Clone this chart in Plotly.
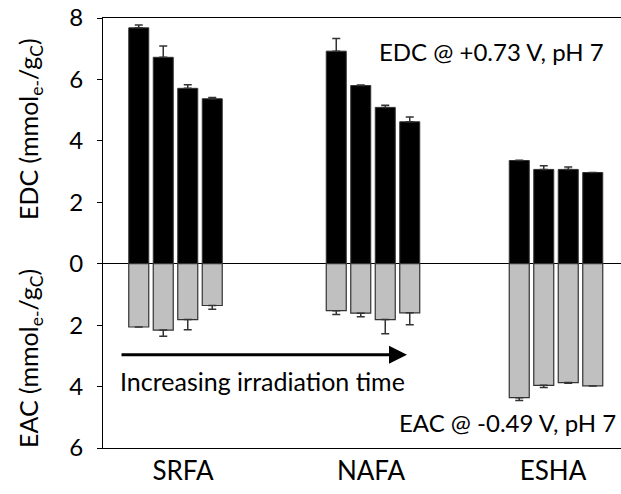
import plotly.graph_objects as go

categories = ["SRFA", "NAFA", "ESHA"]
# EDC (mmol e-/gC), four irradiation steps per sample
edc = [[7.68, 6.72, 5.71, 5.37],
       [6.92, 5.80, 5.09, 4.62],
       [3.36, 3.07, 3.07, 2.97]]
edc_err = [[0.09, 0.37, 0.12, 0.04],
           [0.41, 0.02, 0.07, 0.16],
           [0.01, 0.12, 0.08, 0.0]]
# EAC (mmol e-/gC)
eac = [[2.06, 2.16, 1.82, 1.36],
       [1.53, 1.61, 1.82, 1.60],
       [4.36, 3.96, 3.87, 3.98]]
eac_err = [[0.0, 0.20, 0.33, 0.12],
           [0.12, 0.12, 0.46, 0.39],
           [0.09, 0.07, 0.02, 0.0]]
ytick_vals = [-6, -4, -2, 0, 2, 4, 6, 8]
ytick_text = ["6", "4", "2", "0", "2", "4", "6", "8"]

FONT = "Lato"
group_x = [72.5, 270, 453]
label_x = [80, 268, 450]
step = 24.5

fig = go.Figure()
for i in range(4):
    xs = [g + (i - 1.5) * step for g in group_x]
    fig.add_trace(go.Bar(
        x=xs, y=[row[i] for row in edc], width=20,
        marker=dict(color="black", line=dict(color="#333333", width=1)),
        error_y=dict(type="data", symmetric=False,
                     array=[row[i] for row in edc_err],
                     arrayminus=[0] * 3, color="#333333", thickness=1.5, width=4),
        showlegend=False))
    fig.add_trace(go.Bar(
        x=xs, y=[-row[i] for row in eac], width=20,
        marker=dict(color="#c0c0c0", line=dict(color="#333333", width=1.2)),
        error_y=dict(type="data", symmetric=False,
                     array=[0] * 3,
                     arrayminus=[row[i] for row in eac_err], color="#333333", thickness=1.5, width=4),
        showlegend=False))

fig.update_layout(
    barmode="overlay",
    width=621, height=494,
    margin=dict(l=103, r=0, t=18, b=46),
    plot_bgcolor="white", paper_bgcolor="white",
    font=dict(family=FONT, color="black", size=22),
    xaxis=dict(range=[0, 518], showgrid=False, zeroline=False,
               showline=True, linecolor="black", linewidth=1, mirror=True,
               tickvals=label_x, ticktext=categories, ticks="",
               tickfont=dict(size=26, family=FONT)),
    yaxis=dict(range=[-6, 8], showgrid=False, zeroline=True, zerolinecolor="black",
               zerolinewidth=1, showline=True, linecolor="black", linewidth=1,
               tickvals=ytick_vals, ticktext=ytick_text, ticks="outside",
               ticklen=5, tickcolor="black", ticklabelstandoff=9,
               tickfont=dict(size=24, family=FONT)),
)

ann_font = dict(family=FONT, size=24, color="black")
fig.add_annotation(x=503, y=6.9, xref="x", yref="y", text="EDC @ +0.73 V, pH 7",
                   showarrow=False, xanchor="right", yanchor="middle", font=ann_font)
fig.add_annotation(x=515, y=-5.18, xref="x", yref="y", text="EAC @ -0.49 V, pH 7",
                   showarrow=False, xanchor="right", yanchor="middle", font=ann_font)
fig.add_annotation(x=15, y=-3.81, xref="x", yref="y", text="Increasing irradiation time",
                   showarrow=False, xanchor="left", yanchor="middle",
                   font=dict(family=FONT, size=25, color="black"))
fig.add_annotation(x=304, y=-2.96, ax=17, ay=-2.96, xref="x", yref="y",
                   axref="x", ayref="y", text="", showarrow=True,
                   arrowhead=2, arrowwidth=3, arrowsize=1.2, arrowcolor="black")

title_font = dict(family=FONT, size=25, color="black")
# paper coords are relative to the plot area (103..621 px, 18..448 px)
tx = (30 - 103) / 518
fig.add_annotation(x=tx, y=1 - (129 - 18) / 430, xref="paper", yref="paper",
                   xanchor="center", yanchor="middle",
                   text="EDC (mmol<sub>e-</sub>/g<sub>C</sub>)", textangle=-90,
                   showarrow=False, font=title_font)
fig.add_annotation(x=tx, y=1 - (359 - 18) / 430, xref="paper", yref="paper",
                   xanchor="center", yanchor="middle",
                   text="EAC (mmol<sub>e-</sub>/g<sub>C</sub>)", textangle=-90,
                   showarrow=False, font=title_font)

fig.write_html("out.html", config={"displayModeBar": False},
               post_script="document.body.style.margin='0';")
